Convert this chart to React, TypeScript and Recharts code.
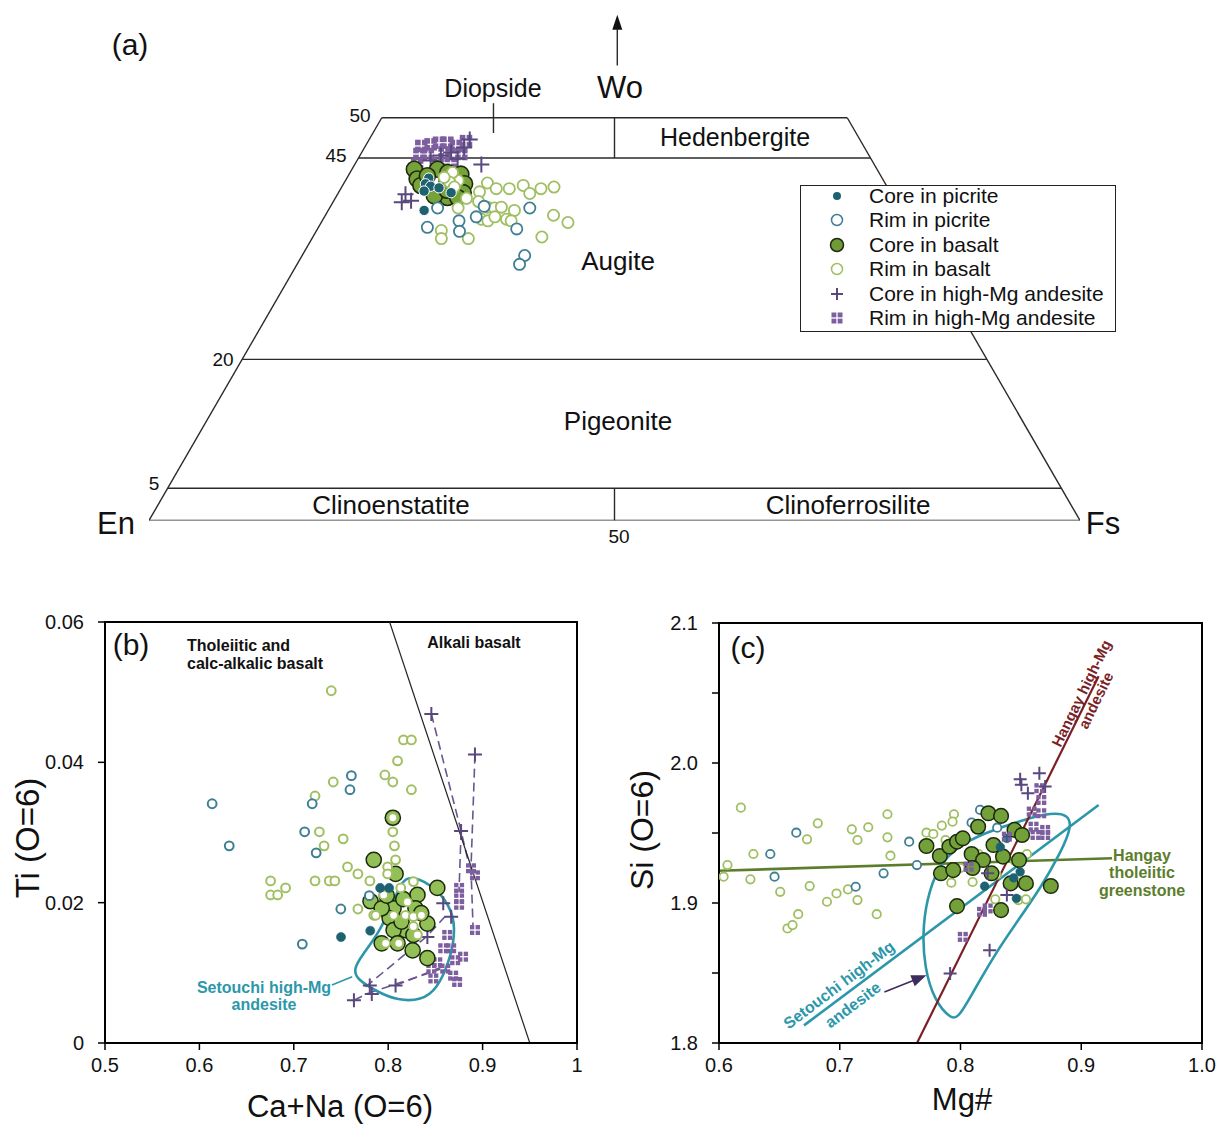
import React from 'react';
import { ComposedChart, Scatter, Line, XAxis, YAxis, ReferenceArea } from 'recharts';

const FONT = '"Liberation Sans", Arial, Helvetica, sans-serif';

// ---------- (a) pyroxene quadrilateral, points as [Wo, Fs] in mol %
const A_WO_LINES = [4, 20, 45, 50];
const A_CORE_PICRITE = [[42.5, 8.8], [41.8, 8.8], [41.5, 9.5], [41.3, 10.5], [40.9, 9.1], [40.7, 12.1], [38.5, 10.3]];
const A_RIM_PICRITE = [[38.8, 11.6], [36.4, 11.7], [37.2, 14.7], [35.9, 15.4], [37.7, 16.3], [39.0, 16.5], [36.2, 21.4], [38.8, 21.5], [32.9, 23.9], [31.8, 23.9]];
const A_CORE_BASALT = [[43.6, 6.7], [42.4, 7.6], [41.6, 8.4], [43.0, 12.0], [41.8, 13.0], [40.7, 13.4], [40.1, 12.0], [40.3, 10.5], [43.6, 9.2], [42.8, 8.5], [43.2, 10.5], [40.1, 13.1], [42.0, 11.0], [41.0, 11.5]];
const A_RIM_BASALT = [[41.9, 15.4], [41.2, 16.7], [41.2, 18.1], [41.6, 19.4], [40.6, 20.6], [41.2, 21.5], [41.4, 22.8], [40.8, 15.1], [39.6, 15.6], [38.9, 16.9], [38.8, 17.7], [38.9, 18.4], [37.4, 17.0], [37.2, 17.8], [37.7, 18.3], [37.4, 19.7], [38.5, 20.0], [37.2, 20.3], [37.9, 24.5], [37.0, 26.5], [35.2, 24.6], [36.0, 13.4], [35.0, 13.9], [35.0, 16.8], [38.8, 13.8], [42.2, 12.1], [40.0, 14.1], [43.2, 11.0], [42.0, 11.3], [41.4, 12.1], [42.6, 10.4]];
const A_CORE_HMA = [[47.3, 10.8], [44.2, 13.6], [39.5, 7.4], [39.7, 8.3], [40.5, 7.3], [45.3, 8.7], [44.9, 10.7], [44.7, 7.9], [46.3, 10.7], [45.7, 9.6]];
const A_RIM_HMA = [[45.5, 6.3], [46.5, 6.0], [46.7, 6.9], [46.9, 7.7], [46.9, 8.6], [46.5, 9.7], [47.1, 10.5], [45.5, 7.2], [45.7, 8.9], [45.5, 10.8], [44.2, 6.7], [44.4, 8.8], [44.4, 10.2]];

// ---------- (b) Ti vs Ca+Na, points as [Ca+Na, Ti]
const B_X_TICKS = [0.5, 0.6, 0.7, 0.8, 0.9, 1];
const B_Y_TICKS = [0, 0.02, 0.04, 0.06];
const B_RIM_PICRITE = [[0.6135, 0.0341], [0.6316, 0.0281], [0.761, 0.0381], [0.7595, 0.0361], [0.7195, 0.0341], [0.7115, 0.0301], [0.7237, 0.0271], [0.7498, 0.0191], [0.709, 0.0141], [0.78, 0.021]];
const B_CORE_PICRITE = [[0.75, 0.0151], [0.781, 0.016], [0.7915, 0.0221], [0.801, 0.0221]];
const B_RIM_BASALT = [[0.7397, 0.0502], [0.8162, 0.0432], [0.8246, 0.0432], [0.8099, 0.0402], [0.7965, 0.0382], [0.8049, 0.0372], [0.7418, 0.0372], [0.8246, 0.0361], [0.7225, 0.0352], [0.7271, 0.0301], [0.7321, 0.0281], [0.7523, 0.0291], [0.8049, 0.0301], [0.8066, 0.0281], [0.8078, 0.0261], [0.7569, 0.0251], [0.7679, 0.0241], [0.7994, 0.0251], [0.7994, 0.0241], [0.6754, 0.0231], [0.6754, 0.0211], [0.6829, 0.0211], [0.6913, 0.0221], [0.7225, 0.0231], [0.7376, 0.0231], [0.7435, 0.0231], [0.7806, 0.0231], [0.7679, 0.0191], [0.7847, 0.0182], [0.7952, 0.0211], [0.8057, 0.0182], [0.8183, 0.0182], [0.8267, 0.018], [0.8352, 0.0182], [0.8112, 0.0142], [0.831, 0.0154], [0.8267, 0.0166], [0.8133, 0.0221], [0.8267, 0.023], [0.7868, 0.0182], [0.7973, 0.0142], [0.8204, 0.0201], [0.8049, 0.0321]];
const B_CORE_BASALT = [[0.8049, 0.0321], [0.7847, 0.0261], [0.8078, 0.0241], [0.7813, 0.0202], [0.852, 0.0221], [0.831, 0.0211], [0.8289, 0.0192], [0.8057, 0.0192], [0.8015, 0.0178], [0.8415, 0.017], [0.8183, 0.0161], [0.8057, 0.0161], [0.8267, 0.0154], [0.7931, 0.0142], [0.8099, 0.0142], [0.8259, 0.0132], [0.8415, 0.0121], [0.8141, 0.0173], [0.7931, 0.0192], [0.7985, 0.021], [0.816, 0.0205], [0.835, 0.0185]];
const B_CORE_HMA = [[0.8457, 0.0469], [0.8919, 0.0411], [0.8772, 0.0302], [0.8583, 0.0199], [0.8667, 0.018], [0.8415, 0.0151], [0.7805, 0.0082], [0.7826, 0.007], [0.7637, 0.0061], [0.8078, 0.0082]];
const B_RIM_HMA = [[0.8877, 0.0249], [0.8919, 0.0239], [0.8751, 0.0221], [0.8751, 0.0206], [0.8751, 0.0197], [0.8919, 0.0161], [0.8625, 0.0154], [0.8583, 0.0135], [0.8667, 0.0135], [0.8793, 0.0123], [0.8709, 0.0118], [0.852, 0.0115], [0.8457, 0.0106], [0.8604, 0.0106], [0.8688, 0.0096], [0.873, 0.0087], [0.8478, 0.0092]];
const B_TIE_LINES = [
  [[0.8457, 0.0469], [0.8772, 0.0302], [0.8856, 0.0254]],
  [[0.8919, 0.0411], [0.8877, 0.0249], [0.8898, 0.0168]],
  [[0.8772, 0.0302], [0.875, 0.0215]],
  [[0.776, 0.008], [0.841, 0.0152], [0.860, 0.018]],
  [[0.779, 0.0071], [0.855, 0.0105]],
  [[0.808, 0.0082], [0.860, 0.011]],
  [[0.7637, 0.0061], [0.779, 0.0071]],
];
const B_DIVIDE = [[0.8015, 0.06], [0.95, 0]];
const B_SETOUCHI = [[0.8246, 0.02396], [0.852, 0.02205], [0.8688, 0.01871], [0.8709, 0.01537], [0.8646, 0.01155], [0.852, 0.00773], [0.8352, 0.00606], [0.8099, 0.00606], [0.7889, 0.00726], [0.7658, 0.00916], [0.7637, 0.0106], [0.7721, 0.0125], [0.7889, 0.01537], [0.8057, 0.02014], [0.8141, 0.023]];
const B_SETOUCHI_LEADER = [[0.7404, 0.00826], [0.7619, 0.00945]];

// ---------- (c) Si vs Mg#, points as [Mg#, Si]
const C_X_TICKS = [0.6, 0.7, 0.8, 0.9, 1.0];
const C_Y_TICKS = [1.8, 1.85, 1.9, 1.95, 2.0, 2.05, 2.1];
const C_RIM_BASALT = [[0.6181, 1.9681], [0.607, 1.9271], [0.6038, 1.9188], [0.6285, 1.935], [0.626, 1.9169], [0.6507, 1.908], [0.6567, 1.8818], [0.6609, 1.8842], [0.6656, 1.892], [0.6729, 1.9455], [0.6818, 1.9569], [0.6751, 1.9121], [0.6894, 1.9009], [0.6973, 1.9068], [0.7068, 1.9097], [0.71, 1.9526], [0.7147, 1.945], [0.7147, 1.9021], [0.7236, 1.9541], [0.7306, 1.892], [0.7395, 1.9634], [0.7395, 1.9469], [0.742, 1.9338], [0.7718, 1.9502], [0.7775, 1.9493], [0.7845, 1.9553], [0.7946, 1.9634], [0.7934, 1.9581], [0.7876, 1.945], [0.7924, 1.9145], [0.8288, 1.9026], [0.8479, 1.9021], [0.8542, 1.9026], [0.8494, 1.9145], [0.80, 1.925], [0.815, 1.935], [0.83, 1.92], [0.845, 1.93], [0.855, 1.935], [0.81, 1.915]];
const C_RIM_PICRITE = [[0.6425, 1.935], [0.646, 1.9188], [0.664, 1.9502], [0.7132, 1.9116], [0.7363, 1.9212], [0.7575, 1.9438], [0.7639, 1.9271], [0.8162, 1.9665], [0.8092, 1.9574], [0.8304, 1.9538]];
const C_CORE_PICRITE = [[0.8463, 1.9033], [0.8494, 1.9223], [0.8384, 1.9462], [0.844, 1.918], [0.82, 1.912], [0.833, 1.94]];
const C_CORE_BASALT = [[0.7718, 1.9407], [0.7829, 1.9336], [0.7838, 1.9212], [0.7908, 1.9402], [0.7971, 1.9438], [0.794, 1.9235], [0.8019, 1.9462], [0.8092, 1.935], [0.8146, 1.9545], [0.8231, 1.9641], [0.8336, 1.9622], [0.8187, 1.9307], [0.8273, 1.9414], [0.8352, 1.9331], [0.8447, 1.9522], [0.851, 1.9486], [0.8485, 1.9307], [0.8415, 1.914], [0.8542, 1.914], [0.8748, 1.9121], [0.7971, 1.8978], [0.8336, 1.8949], [0.8257, 1.9212], [0.81, 1.925]];
const C_CORE_HMA = [[0.8494, 1.9884], [0.8653, 1.9927], [0.8504, 1.9844], [0.8558, 1.9784], [0.8701, 1.9832], [0.8241, 1.8663], [0.7914, 1.8496], [0.8384, 1.9057], [0.8225, 1.9212]];
const C_RIM_HMA = [[0.8653, 1.982], [0.8669, 1.9736], [0.859, 1.9653], [0.8669, 1.9641], [0.8605, 1.9545], [0.8701, 1.9522], [0.8621, 1.9486], [0.8701, 1.9486], [0.8384, 1.9474], [0.8019, 1.8758], [0.8178, 1.8937], [0.8225, 1.8961], [0.8067, 1.9259]];
const C_HANGAY_HMA = [[0.764, 1.80], [0.9144, 2.0619]];
const C_HANGAY_THOL = [[0.6, 1.923], [0.9255, 1.932]];
const C_SETOUCHI_TREND = [[0.6704, 1.8126], [0.9144, 1.970]];
const C_SETOUCHI = [[0.7924, 1.8167], [0.7781, 1.8305], [0.7702, 1.8544], [0.7686, 1.8782], [0.7718, 1.9021], [0.7813, 1.9259], [0.7971, 1.9402], [0.8193, 1.9498], [0.851, 1.9593], [0.8764, 1.9648], [0.8891, 1.9629], [0.8922, 1.9545], [0.8827, 1.9355], [0.8669, 1.9116], [0.8479, 1.8878], [0.8288, 1.8639], [0.8098, 1.8353], [0.7987, 1.8186]];
const C_ARROW = [[0.737, 1.8365], [0.764, 1.8457]];
const C_ARROW_TIP = [[0.7718, 1.8484]];

// colours
const TEAL_DARK = '#1e6272';
const TEAL = '#3f7f94';
const GREEN_RIM = '#a0bf62';
const PLUS = '#58487e';
const SQUARE = '#7d5e9e';
const SETOUCHI = '#2d97aa';

const xy = (d: number[][]) => d.map(([x, y]) => ({ x, y }));
const tern = (d: number[][]) => d.map(([wo, fs]) => ({ x: fs + wo / 2, y: wo }));

const dot = (r: number, fill: string, stroke: string, sw: number) => (p: any) =>
  <circle cx={p.cx} cy={p.cy} r={r} fill={fill} stroke={stroke} strokeWidth={sw} />;
const plus = (s: number, color: string, sw = 2) => (p: any) =>
  <path d={`M${p.cx - s} ${p.cy}H${p.cx + s}M${p.cx} ${p.cy - s}V${p.cy + s}`} stroke={color} strokeWidth={sw} fill="none" />;
const quad = (s: number, color: string) => (p: any) => {
  const g = 1.3, w = (s - g) / 2, x0 = p.cx - s / 2, y0 = p.cy - s / 2;
  return (
    <g fill={color}>
      <rect x={x0} y={y0} width={w} height={w} />
      <rect x={x0 + w + g} y={y0} width={w} height={w} />
      <rect x={x0} y={y0 + w + g} width={w} height={w} />
      <rect x={x0 + w + g} y={y0 + w + g} width={w} height={w} />
    </g>
  );
};
const arrowHead = (angle: number, color: string, len = 15, half = 6) => (p: any) =>
  <path d={`M0 0L${-len} ${-half}L${-len} ${half}Z`} fill={color} transform={`translate(${p.cx},${p.cy}) rotate(${angle})`} />;

function T({ x, y, s, children, b, c = '#111', r = 0, align = 'center' }: any) {
  return (
    <div style={{
      position: 'absolute', left: x, top: y, transform: `translate(-50%, -50%) rotate(${r}deg)`,
      fontSize: s, fontWeight: b ? 700 : 400, color: c, whiteSpace: 'nowrap', lineHeight: 1.08,
      textAlign: align, fontFamily: FONT,
    }}>{children}</div>
  );
}

const seg = (key: string, data: any[], stroke = '#222', width = 1.3, dash?: string) => (
  <Line key={key} data={data} dataKey="y" stroke={stroke} strokeWidth={width} strokeDasharray={dash}
    dot={false} activeDot={false} isAnimationActive={false} legendType="none" />
);

function PanelA() {
  const edges = [
    [{ x: 0, y: 0 }, { x: 100, y: 0 }],
    [{ x: 0, y: 0 }, { x: 25, y: 50 }],
    [{ x: 100, y: 0 }, { x: 75, y: 50 }],
    ...A_WO_LINES.map(w => [{ x: w / 2, y: w }, { x: 100 - w / 2, y: w }]),
    [{ x: 50, y: 45 }, { x: 50, y: 50 }],
    [{ x: 50, y: 0 }, { x: 50, y: 4 }],
    [{ x: 37, y: 48.1 }, { x: 37, y: 51.8 }],
    [{ x: 50.3, y: 56.5 }, { x: 50.3, y: 61 }],
  ];
  return (
    <div style={{ position: 'absolute', left: 0, top: 0 }}>
      <ComposedChart width={1216} height={560} margin={{ top: 5, right: 136, bottom: 39.5, left: 149 }}>
        <XAxis type="number" dataKey="x" domain={[0, 100]} hide allowDataOverflow />
        <YAxis type="number" dataKey="y" domain={[0, 64]} hide allowDataOverflow />
        {edges.map((e, i) => seg('e' + i, e, '#2a2a2a', 1.4))}
        <Scatter data={[{ x: 50.3, y: 61.8 }]} shape={(p: any) =>
          <path d={`M${p.cx} ${p.cy - 8}L${p.cx - 5} ${p.cy + 7}L${p.cx + 5} ${p.cy + 7}Z`} fill="#111" />} isAnimationActive={false} />
        <Scatter data={tern(A_RIM_HMA)} shape={quad(12.5, SQUARE)} isAnimationActive={false} />
        <Scatter data={tern(A_CORE_HMA)} shape={plus(8, PLUS, 2)} isAnimationActive={false} />
        <Scatter data={tern(A_CORE_BASALT)} shape={dot(8, '#76a23a', '#1d2a0e', 1.6)} isAnimationActive={false} />
        <Scatter data={tern(A_RIM_BASALT)} shape={dot(5.6, '#fff', GREEN_RIM, 1.8)} isAnimationActive={false} />
        <Scatter data={tern(A_RIM_PICRITE)} shape={dot(5.6, '#fff', TEAL, 1.8)} isAnimationActive={false} />
        <Scatter data={tern(A_CORE_PICRITE)} shape={dot(5.2, TEAL_DARK, '#fff', 1)} isAnimationActive={false} />
      </ComposedChart>
      <T x={130} y={45} s={30}>(a)</T>
      <T x={620} y={88} s={31}>Wo</T>
      <T x={493} y={88} s={25}>Diopside</T>
      <T x={360} y={116} s={19}>50</T>
      <T x={336} y={156} s={19}>45</T>
      <T x={223} y={360} s={19}>20</T>
      <T x={154} y={484} s={19}>5</T>
      <T x={619} y={537} s={19}>50</T>
      <T x={116} y={524} s={31}>En</T>
      <T x={1103} y={524} s={31}>Fs</T>
      <T x={735} y={137} s={25}>Hedenbergite</T>
      <T x={618} y={261} s={26}>Augite</T>
      <T x={618} y={421} s={26}>Pigeonite</T>
      <T x={391} y={505} s={26}>Clinoenstatite</T>
      <T x={848} y={505} s={26}>Clinoferrosilite</T>
      <LegendA />
    </div>
  );
}

function LegendA() {
  const rows: [string, React.ReactNode][] = [
    ['Core in picrite', <circle cx={10} cy={10} r={4} fill={TEAL_DARK} />],
    ['Rim in picrite', <circle cx={10} cy={10} r={5.5} fill="#fff" stroke={TEAL} strokeWidth={1.5} />],
    ['Core in basalt', <circle cx={10} cy={10} r={6.5} fill="#6f9a36" stroke="#1d2a0e" strokeWidth={1.5} />],
    ['Rim in basalt', <circle cx={10} cy={10} r={5.5} fill="#fff" stroke={GREEN_RIM} strokeWidth={1.5} />],
    ['Core in high-Mg andesite', <path d="M4 10H16M10 4V16" stroke={PLUS} strokeWidth={2} />],
    ['Rim in high-Mg andesite', quad(11, SQUARE)({ cx: 10, cy: 10 })],
  ];
  return (
    <div style={{ position: 'absolute', left: 800, top: 185, width: 316, height: 147, border: '1.3px solid #222', background: '#fff', boxSizing: 'border-box' }}>
      {rows.map(([label, mark], i) => (
        <div key={i} style={{ position: 'absolute', left: 26, top: -2 + i * 24.4, height: 24, display: 'flex', alignItems: 'center' }}>
          <svg width={20} height={20}>{mark}</svg>
          <span style={{ marginLeft: 22, fontSize: 21, lineHeight: '24px', fontFamily: FONT, color: '#111' }}>{label}</span>
        </div>
      ))}
    </div>
  );
}

const tickStyle = { fill: '#111', fontSize: 20, fontFamily: FONT };

function PanelB() {
  return (
    <div style={{ position: 'absolute', left: 0, top: 600 }}>
      <ComposedChart width={608} height={526} margin={{ top: 22, right: 31, bottom: 53, left: 45 }}>
        <XAxis type="number" dataKey="x" domain={[0.5, 1]} ticks={B_X_TICKS} allowDataOverflow height={30}
          tickFormatter={(v: number) => (v === 1 ? '1' : v.toFixed(1))} tick={tickStyle} tickSize={7} tickMargin={8}
          axisLine={{ stroke: '#000', strokeWidth: 2 }} tickLine={{ stroke: '#000', strokeWidth: 1.5 }} />
        <YAxis type="number" dataKey="y" domain={[0, 0.06]} ticks={B_Y_TICKS} allowDataOverflow width={60}
          tickFormatter={(v: number) => (v === 0 ? '0' : v.toFixed(2))} tick={tickStyle} tickSize={7} tickMargin={14}
          axisLine={{ stroke: '#000', strokeWidth: 2 }} tickLine={{ stroke: '#000', strokeWidth: 1.5 }} />
        <ReferenceArea x1={0.5} x2={1} y1={0} y2={0.06} fill="none" stroke="#000" strokeWidth={2} />
        {B_TIE_LINES.map((l, i) => seg('t' + i, xy(l), '#6a5590', 1.6, '9 5'))}
        {seg('div', xy(B_DIVIDE), '#222', 1.2)}
        <Scatter data={xy(B_RIM_HMA)} shape={quad(10, SQUARE)} isAnimationActive={false} />
        <Scatter data={xy(B_CORE_HMA)} shape={plus(7, PLUS, 2)} isAnimationActive={false} />
        <Scatter data={xy(B_CORE_BASALT)} shape={dot(7.6, '#92c057', '#1a2a0c', 1.5)} isAnimationActive={false} />
        <Scatter data={xy(B_RIM_BASALT)} shape={dot(4.4, '#fff', GREEN_RIM, 2)} isAnimationActive={false} />
        <Scatter data={xy(B_RIM_PICRITE)} shape={dot(4.4, '#fff', TEAL, 2)} isAnimationActive={false} />
        <Scatter data={xy(B_CORE_PICRITE)} shape={dot(4.6, TEAL_DARK, TEAL_DARK, 0.5)} isAnimationActive={false} />
        <Line data={xy(B_SETOUCHI)} dataKey="y" type="basisClosed" stroke={SETOUCHI} strokeWidth={2.6} dot={false} activeDot={false} isAnimationActive={false} />
        {seg('lead', xy(B_SETOUCHI_LEADER), SETOUCHI, 1.5)}
      </ComposedChart>
      <T x={131} y={45} s={30}>(b)</T>
      <div style={{ position: 'absolute', left: 187, top: 37, fontSize: 16, fontWeight: 700, lineHeight: '18px', fontFamily: FONT, color: '#111' }}>
        Tholeiitic and<br />calc-alkalic basalt
      </div>
      <T x={474} y={43} s={16} b>Alkali basalt</T>
      <T x={264} y={396} s={16} b c={SETOUCHI}>Setouchi high-Mg<br />andesite</T>
      <T x={340} y={507} s={31}>Ca+Na (O=6)</T>
      <T x={28} y={238} s={33} r={-90}>Ti (O=6)</T>
    </div>
  );
}

function PanelC() {
  return (
    <div style={{ position: 'absolute', left: 640, top: 600 }}>
      <ComposedChart width={576} height={526} margin={{ top: 23, right: 14, bottom: 53, left: 19 }}>
        <XAxis type="number" dataKey="x" domain={[0.6, 1.0]} ticks={C_X_TICKS} allowDataOverflow height={30}
          tickFormatter={(v: number) => v.toFixed(1)} tick={tickStyle} tickSize={7} tickMargin={8}
          axisLine={{ stroke: '#000', strokeWidth: 2 }} tickLine={{ stroke: '#000', strokeWidth: 1.5 }} />
        <YAxis type="number" dataKey="y" domain={[1.8, 2.1]} ticks={C_Y_TICKS} allowDataOverflow width={60}
          tickFormatter={(v: number) => (Math.round(v * 100) % 10 === 0 ? v.toFixed(1) : '')} tick={tickStyle} tickSize={7} tickMargin={14}
          axisLine={{ stroke: '#000', strokeWidth: 2 }} tickLine={{ stroke: '#000', strokeWidth: 1.5 }} />
        <ReferenceArea x1={0.6} x2={1.0} y1={1.8} y2={2.1} fill="none" stroke="#000" strokeWidth={2} />
        {seg('thol', xy(C_HANGAY_THOL), '#5b7d2c', 2.6)}
        <Scatter data={xy(C_RIM_BASALT)} shape={dot(4.2, '#fff', GREEN_RIM, 1.8)} isAnimationActive={false} />
        <Scatter data={xy(C_RIM_PICRITE)} shape={dot(4.2, '#fff', TEAL, 1.8)} isAnimationActive={false} />
        <Scatter data={xy(C_CORE_BASALT)} shape={dot(7.3, '#74a03a', '#1a2a0c', 1.5)} isAnimationActive={false} />
        <Scatter data={xy(C_CORE_PICRITE)} shape={dot(4.4, TEAL_DARK, TEAL_DARK, 0.5)} isAnimationActive={false} />
        <Scatter data={xy(C_RIM_HMA)} shape={quad(10, SQUARE)} isAnimationActive={false} />
        <Scatter data={xy(C_CORE_HMA)} shape={plus(6.5, PLUS, 2)} isAnimationActive={false} />
        <Line data={xy(C_SETOUCHI)} dataKey="y" type="basisClosed" stroke={SETOUCHI} strokeWidth={2.6} dot={false} activeDot={false} isAnimationActive={false} />
        {seg('trend', xy(C_SETOUCHI_TREND), SETOUCHI, 2.6)}
        {seg('hma', xy(C_HANGAY_HMA), '#7b1f27', 2.2)}
        {seg('arrow', xy(C_ARROW), '#3d2d5c', 1.6)}
        <Scatter data={xy(C_ARROW_TIP)} shape={arrowHead(-21.7, '#3d2d5c')} isAnimationActive={false} />
      </ComposedChart>
      <T x={108} y={48} s={30}>(c)</T>
      <T x={449} y={97} s={15} b c="#7b1f27" r={-64}>Hangay high-Mg<br />andesite</T>
      <T x={502} y={273} s={16} b c="#5b7d2c">Hangay<br />tholeiitic<br />greenstone</T>
      <T x={199} y={385} s={16} b c={SETOUCHI} r={-37}>Setouchi high-Mg</T>
      <T x={213} y={405} s={16} b c={SETOUCHI} r={-37}>andesite</T>
      <T x={322} y={500} s={31}>Mg#</T>
      <T x={2} y={230} s={32} r={-90}>Si (O=6)</T>
    </div>
  );
}

export default function App() {
  return (
    <div style={{ position: 'absolute', left: 0, top: 0, width: 1216, height: 1126, background: '#fff', overflow: 'hidden' }}>
      <PanelA />
      <PanelB />
      <PanelC />
    </div>
  );
}
